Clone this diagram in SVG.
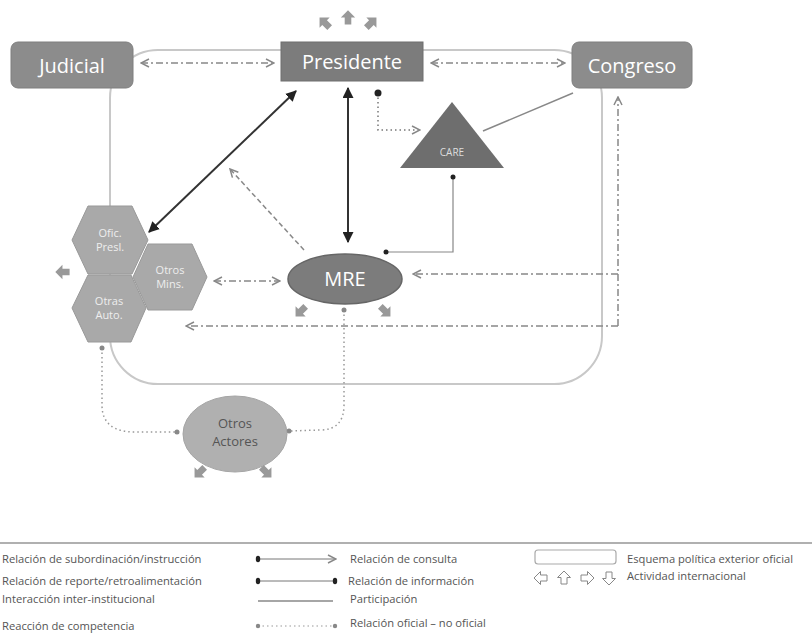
<svg xmlns="http://www.w3.org/2000/svg" width="812" height="635" viewBox="0 0 812 635">
<defs>
<style>
.lbl{font-family:"Open Sans","Liberation Sans",sans-serif;fill:#fff;text-anchor:middle}
.leg{font-family:"Open Sans","Liberation Sans",sans-serif;font-size:11.2px;fill:#555}
.dash{fill:none;stroke:#888;stroke-width:1.5;stroke-dasharray:7 3 2 3}
.dot{fill:none;stroke:#999;stroke-width:1.5;stroke-dasharray:1.5 3}
.solid{fill:none;stroke:#333;stroke-width:2}
.thin{fill:none;stroke:#888;stroke-width:1.2}
.blk{fill:#999}
.hex{fill:#a9a9a9;stroke:#999;stroke-width:1}
.dk{fill:#222}
.dg{fill:#888}
</style>
<marker id="chev" viewBox="0 0 10 10" refX="9" refY="5" markerWidth="10" markerHeight="10" markerUnits="userSpaceOnUse" orient="auto-start-reverse"><path d="M1,1 L9,5 L1,9" fill="none" stroke="#888" stroke-width="1.5"/></marker>
<marker id="tri" viewBox="0 0 10 10" refX="9" refY="5" markerWidth="11" markerHeight="11" markerUnits="userSpaceOnUse" orient="auto-start-reverse"><path d="M0,0 L10,5 L0,10 Z" fill="#222"/></marker>
<path id="ua" d="M0,-7 L6.5,-0.5 L3,-0.5 L3,6 L-3,6 L-3,-0.5 L-6.5,-0.5 Z"/>
</defs>
<rect width="812" height="635" fill="#fff"/>

<g id="esquema">
<rect x="110" y="50" width="492" height="334" rx="48" fill="none" stroke="#c8c8c8" stroke-width="2"/>
</g>

<g id="connectors">
<line x1="141" y1="63" x2="274" y2="63" class="dash" marker-start="url(#chev)" marker-end="url(#chev)"/>
<line x1="431" y1="63" x2="565" y2="63" class="dash" marker-start="url(#chev)" marker-end="url(#chev)"/>
<line x1="296" y1="91" x2="149" y2="232" class="solid" marker-start="url(#tri)" marker-end="url(#tri)"/>
<line x1="348" y1="88" x2="348" y2="242" class="solid" marker-start="url(#tri)" marker-end="url(#tri)"/>
<path d="M378,93 L378,130 L420,130" class="dot" style="stroke:#777" marker-end="url(#chev)"/>
<circle cx="378" cy="93" r="3.5" class="dk"/>
<line x1="483" y1="131" x2="573" y2="93" stroke="#888" stroke-width="1.5"/>
<path d="M453,177 L453,252 L386,252" class="thin"/>
<circle cx="453" cy="177" r="2.5" class="dk"/>
<circle cx="386" cy="252" r="2.5" class="dk"/>
<line x1="304" y1="250" x2="230" y2="169" class="dash" style="stroke-dasharray:5 3" marker-end="url(#chev)"/>
<line x1="214" y1="281" x2="280" y2="281" class="dash" marker-start="url(#chev)" marker-end="url(#chev)"/>
<path d="M618,326 L618,97" class="dash" marker-end="url(#chev)"/>
<path d="M618,274 L413,274" class="dash" marker-end="url(#chev)"/>
<path d="M618,326 L186,326" class="dash" marker-end="url(#chev)"/>
<path d="M102,348 L102,405 Q102,432 135,432 L177,432" class="dot"/>
<circle cx="102" cy="348" r="2.5" class="dg"/>
<circle cx="177" cy="432" r="2.5" class="dg"/>
<path d="M344,310 L344,405 Q344,430 320,430 L289,431" class="dot"/>
<circle cx="344" cy="310" r="2.5" class="dg"/>
<circle cx="289" cy="431" r="2.5" class="dg"/>
</g>

<g id="judicial">
<rect x="11" y="42" width="122" height="46" rx="7" fill="#8c8c8c" stroke="#7f7f7f"/>
<text x="72" y="73" class="lbl" font-size="20">Judicial</text>
</g>
<g id="presidente">
<rect x="281" y="42" width="142" height="39" fill="#7c7c7c" stroke="#6f6f6f"/>
<text x="352" y="69" class="lbl" font-size="20">Presidente</text>
<use href="#ua" class="blk" transform="translate(325,23) rotate(-45) scale(1.1)"/>
<use href="#ua" class="blk" transform="translate(348,18) scale(1.1)"/>
<use href="#ua" class="blk" transform="translate(371,23) rotate(45) scale(1.1)"/>
</g>
<g id="congreso">
<rect x="572" y="42" width="120" height="46" rx="7" fill="#8c8c8c" stroke="#7f7f7f"/>
<text x="632" y="73" class="lbl" font-size="20">Congreso</text>
</g>
<g id="care">
<polygon points="452,102 504,168 400,168" fill="#6e6e6e"/>
<text x="452" y="156" class="lbl" font-size="10" style="fill:#ddd">CARE</text>
</g>
<g id="mre">
<ellipse cx="345" cy="279" rx="57" ry="25" fill="#7c7c7c" stroke="#666" stroke-width="1.5"/>
<text x="345" y="286" class="lbl" font-size="20">MRE</text>
<use href="#ua" class="blk" transform="translate(301,311) rotate(-135) scale(1.1)"/>
<use href="#ua" class="blk" transform="translate(385,311) rotate(135) scale(1.1)"/>
</g>
<g id="ofic-presl">
<polygon class="hex" points="72,240 88,206 132,206 148,240 132,274 88,274"/>
<text x="110" y="237" class="lbl" font-size="11" style="fill:#eee">Ofic.</text>
<text x="110" y="251" class="lbl" font-size="11" style="fill:#eee">Presl.</text>
</g>
<g id="otras-auto">
<polygon class="hex" points="72,308 88,275 131,275 146,308 131,342 88,342"/>
<text x="109" y="305" class="lbl" font-size="11" style="fill:#eee">Otras</text>
<text x="109" y="319" class="lbl" font-size="11" style="fill:#eee">Auto.</text>
</g>
<g id="otros-mins">
<polygon class="hex" points="133,277 148,244 192,244 207,277 192,310 148,310"/>
<text x="170" y="274" class="lbl" font-size="11" style="fill:#eee">Otros</text>
<text x="170" y="288" class="lbl" font-size="11" style="fill:#eee">Mins.</text>
<use href="#ua" class="blk" transform="translate(63,272) rotate(-90) scale(1.1)"/>
</g>
<g id="otros-actores">
<ellipse cx="235" cy="434" rx="52" ry="38" fill="#b0b0b0" stroke="#a5a5a5"/>
<text x="235" y="428" class="lbl" font-size="13" style="fill:#555">Otros</text>
<text x="235" y="446" class="lbl" font-size="13" style="fill:#555">Actores</text>
<use href="#ua" class="blk" transform="translate(200,472) rotate(-135) scale(1.1)"/>
<use href="#ua" class="blk" transform="translate(266,472) rotate(135) scale(1.1)"/>
</g>

<g id="legend">
<line x1="0" y1="543" x2="812" y2="543" stroke="#b0b0b0" stroke-width="2"/>
<text x="2" y="563" class="leg">Relación de subordinación/instrucción</text>
<text x="2" y="585" class="leg">Relación de reporte/retroalimentación</text>
<text x="2" y="603" class="leg">Interacción inter-institucional</text>
<text x="2" y="630" class="leg">Reacción de competencia</text>
<line x1="258" y1="559" x2="336" y2="559" stroke="#777" stroke-width="1" marker-end="url(#chev)"/>
<ellipse cx="258" cy="559" rx="2.2" ry="3.2" class="dk"/>
<line x1="258" y1="581" x2="335" y2="581" stroke="#777" stroke-width="1"/>
<ellipse cx="258" cy="581" rx="2.2" ry="3.2" class="dk"/>
<ellipse cx="335" cy="581" rx="2.2" ry="3.2" class="dk"/>
<line x1="258" y1="601" x2="333" y2="601" stroke="#888" stroke-width="1.5"/>
<line x1="258" y1="626" x2="335" y2="626" class="dot" style="stroke-width:1.2"/>
<circle cx="258" cy="626" r="2.2" class="dg"/>
<circle cx="335" cy="626" r="2.2" class="dg"/>
<text x="350" y="563" class="leg">Relación de consulta</text>
<text x="348" y="585" class="leg">Relación de información</text>
<text x="350" y="603" class="leg">Participación</text>
<text x="350" y="627" class="leg">Relación oficial – no oficial</text>
<rect x="535" y="550" width="81" height="14" rx="3" fill="#fff" stroke="#aaa" stroke-width="1.2"/>
<text x="627" y="563" class="leg">Esquema política exterior oficial</text>
<g fill="#fff" stroke="#888" stroke-width="1">
<use href="#ua" transform="translate(541,578) rotate(-90)"/>
<use href="#ua" transform="translate(564,578)"/>
<use href="#ua" transform="translate(587,578) rotate(90)"/>
<use href="#ua" transform="translate(609,578) rotate(180)"/>
</g>
<text x="627" y="580" class="leg">Actividad internacional</text>
</g>
</svg>
